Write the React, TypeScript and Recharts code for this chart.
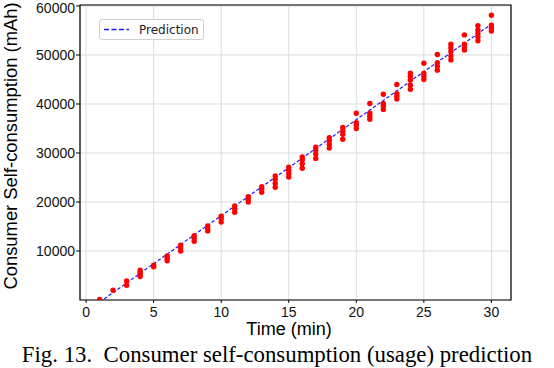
import React from "react";
import {
  CartesianGrid,
  ComposedChart,
  Legend,
  Line,
  ReferenceArea,
  Scatter,
  XAxis,
  YAxis,
} from "recharts";

// Measured usage per minute (several runs each).
const minutes = [
  1, 2, 3, 4, 5, 6, 7, 8, 9, 10, 11, 12, 13, 14, 15, 16, 17, 18, 19, 20, 21, 22, 23, 24, 25, 26, 27,
  28, 29, 30,
];
const usageSamples: number[][] = [
  [100],
  [2000],
  [3900, 3000],
  [6100, 5600, 5200, 4800],
  [7100, 6800],
  [9000, 8500, 8000],
  [11200, 10700, 10000],
  [13100, 12600, 12000],
  [15100, 14500, 14100],
  [17100, 16600, 15900],
  [19200, 18600, 17900],
  [21100, 20500, 20000],
  [23100, 22600, 22000],
  [25300, 24600, 23800, 23000],
  [27100, 26500, 25800, 25100],
  [29200, 28600, 27800, 26900],
  [31200, 30600, 29800, 28900],
  [33100, 32500, 31800, 31000],
  [35200, 34500, 33800, 32800],
  [38100, 36200, 35700, 35000],
  [40100, 38100, 37500, 36900],
  [42000, 40100, 39600, 38900],
  [44000, 42100, 41600, 41000],
  [46300, 45600, 44900, 43900, 43000],
  [48300, 46300, 45700, 45000],
  [50100, 48400, 47700, 46900],
  [52200, 51500, 50700, 49800, 49000],
  [54100, 52200, 51500, 51000],
  [56000, 55100, 54400, 53700, 52900],
  [58100, 56100, 55500, 54900],
];

// Fitted prediction line.
const predictionMinutes = [1, 5, 10, 15, 20, 25, 30];
const predictionValues = [-450, 7400, 17200, 27000, 36800, 46600, 56300];

const xTicks = [0, 5, 10, 15, 20, 25, 30];
const yTicks = [10000, 20000, 30000, 40000, 50000, 60000];
const xDomain: [number, number] = [-0.45, 31.45];
const yDomain: [number, number] = [0, 60200];

const points = minutes.flatMap((m, i) => usageSamples[i].map((v) => ({ x: m, y: v })));
const prediction = predictionMinutes.map((m, i) => ({ x: m, y: predictionValues[i] }));

const SANS = '"Liberation Sans", Arial, sans-serif';
const tickStyle = { fontSize: 14, fill: "#111", fontFamily: SANS };

function PredictionLegend() {
  return (
    <div
      style={{
        width: 105,
        height: 21,
        boxSizing: "border-box",
        border: "1px solid #cfcfcf",
        borderRadius: 3,
        background: "#fff",
        display: "flex",
        alignItems: "center",
        fontFamily: '"DejaVu Sans", sans-serif',
        fontSize: 12,
        color: "#222",
      }}
    >
      <svg width={39} height={19} style={{ flex: "none" }}>
        <line x1={4} x2={29} y1={9.5} y2={9.5} stroke="#1a1aff" strokeWidth={1.5} strokeDasharray="5 2.5" />
      </svg>
      <span>Prediction</span>
    </div>
  );
}

export default function App() {
  return (
    <div style={{ position: "absolute", left: 0, top: 0, width: 554, height: 368, background: "#fff" }}>
      <ComposedChart width={554} height={340} margin={{ top: 5, right: 43, bottom: 0, left: 0 }}>
        <CartesianGrid stroke="#dcdcdc" strokeWidth={1} />
        <XAxis
          type="number"
          dataKey="x"
          domain={xDomain}
          ticks={xTicks}
          allowDataOverflow
          axisLine={false}
          tickSize={3}
          tickMargin={4}
          tickLine={{ stroke: "#000" }}
          tick={tickStyle}
          height={40}
          label={{
            content: () => (
              <text x={289} y={334.5} textAnchor="middle" fontFamily={SANS} fontSize={18} fill="#000">
                Time (min)
              </text>
            ),
          }}
        />
        <YAxis
          type="number"
          dataKey="y"
          domain={yDomain}
          ticks={yTicks}
          allowDataOverflow
          axisLine={false}
          tickSize={4}
          tickMargin={1}
          tickLine={{ stroke: "#000" }}
          tick={tickStyle}
          width={80}
          label={{
            content: () => (
              <text
                x={17}
                y={146}
                transform="rotate(-90 17 146)"
                textAnchor="middle"
                fontFamily={SANS}
                fontSize={18.4}
                fill="#000"
              >
                Consumer Self-consumption (mAh)
              </text>
            ),
          }}
        />
        <Scatter
          data={points}
          isAnimationActive={false}
          shape={(p: any) => <circle cx={p.cx} cy={p.cy} r={2.7} fill="#ff0000" />}
        />
        <Line
          data={prediction}
          dataKey="y"
          type="linear"
          stroke="#1a1aff"
          strokeWidth={1.2}
          strokeDasharray="3.5 2"
          dot={false}
          activeDot={false}
          isAnimationActive={false}
        />
        <ReferenceArea
          x1={xDomain[0]}
          x2={xDomain[1]}
          y1={yDomain[0]}
          y2={yDomain[1]}
          fill="none"
          stroke="#000"
          strokeWidth={1.2}
          ifOverflow="visible"
        />
        <Legend
          layout="vertical"
          align="center"
          verticalAlign="middle"
          wrapperStyle={{ left: 99, top: 19, width: 105, height: 21 }}
          content={() => <PredictionLegend />}
        />
      </ComposedChart>
      <div
        style={{
          position: "absolute",
          left: 0,
          top: 342,
          width: 554,
          textAlign: "center",
          fontFamily: '"Liberation Serif", "Times New Roman", serif',
          fontSize: 22.8,
          lineHeight: "26px",
          whiteSpace: "pre",
          color: "#000",
        }}
      >
        {"Fig. 13.  Consumer self-consumption (usage) prediction"}
      </div>
    </div>
  );
}
